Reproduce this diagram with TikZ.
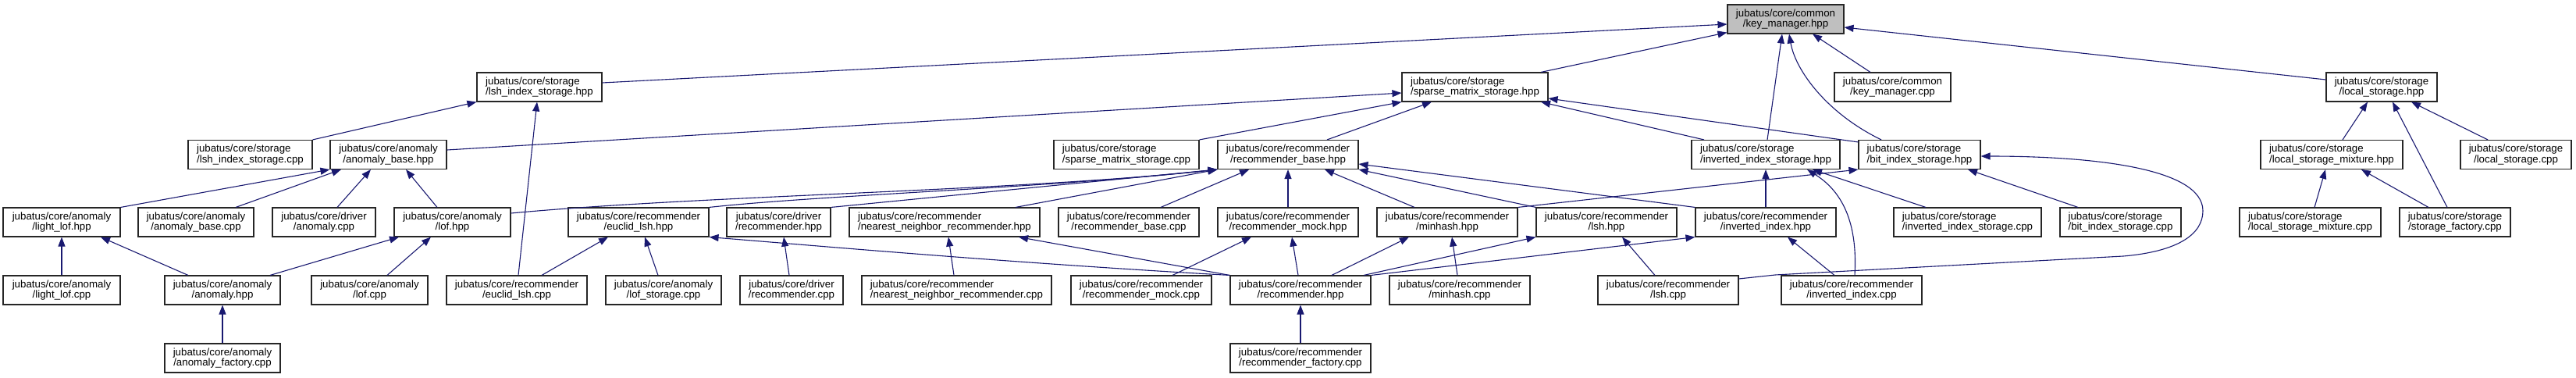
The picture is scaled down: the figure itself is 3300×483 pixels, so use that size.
\documentclass[tikz,border=0pt]{standalone}
\usepackage{fontspec}
\newfontfamily\dxfont{Liberation Sans}
\usetikzlibrary{arrows.meta,calc}
\definecolor{midblue}{RGB}{25,25,112}
\definecolor{rootgray}{RGB}{191,191,191}
\tikzset{
  box/.style={draw=black!85, line width=1.1pt, fill=white, minimum height=37pt, inner sep=0pt,
    font=\dxfont\fontsize{13.3pt}{13.3pt}\selectfont, align=center},
  lbox/.style={box, align=left},
  e/.style={draw=midblue, line width=1.1pt, -{Triangle[length=12pt,width=9pt,fill=midblue]}},
}
\begin{document}
\begin{tikzpicture}[x=1pt,y=-1pt]
\useasboundingbox (0,0) rectangle (3300,483);
% row 0
\node[box, fill=rootgray, minimum width=149pt] (km) at (2287.5,24.5) {jubatus/core/common\\/key\_manager.hpp};
% row 1
\node[lbox, minimum width=160pt] (lshh) at (691,111.5) {jubatus/core/storage\\/lsh\_index\_storage.hpp};
\node[lbox, minimum width=187pt] (smsh) at (1889.5,111.5) {jubatus/core/storage\\/sparse\_matrix\_storage.hpp};
\node[box, minimum width=149pt] (kmc) at (2424.5,111.5) {jubatus/core/common\\/key\_manager.cpp};
\node[box, minimum width=142pt] (lsth) at (3051,111.5) {jubatus/core/storage\\/local\_storage.hpp};
% row 2
\node[lbox, minimum width=159pt] (lshc) at (320.5,198) {jubatus/core/storage\\/lsh\_index\_storage.cpp};
\node[box, minimum width=149pt] (abh) at (497.5,198) {jubatus/core/anomaly\\/anomaly\_base.hpp};
\node[lbox, minimum width=186pt] (smsc) at (1443,198) {jubatus/core/storage\\/sparse\_matrix\_storage.cpp};
\node[box, minimum width=180pt] (rbh) at (1650,198) {jubatus/core/recommender\\/recommender\_base.hpp};
\node[lbox, minimum width=190pt] (iish) at (2262,198) {jubatus/core/storage\\/inverted\_index\_storage.hpp};
\node[lbox, minimum width=156pt] (bish) at (2459,198) {jubatus/core/storage\\/bit\_index\_storage.hpp};
\node[lbox, minimum width=182pt] (lsmh) at (2987,198) {jubatus/core/storage\\/local\_storage\_mixture.hpp};
\node[box, minimum width=142pt] (lstc) at (3223,198) {jubatus/core/storage\\/local\_storage.cpp};
% row 3
\node[box, minimum width=150pt] (llh) at (79,284.5) {jubatus/core/anomaly\\/light\_lof.hpp};
\node[box, minimum width=148pt] (abc) at (251,284.5) {jubatus/core/anomaly\\/anomaly\_base.cpp};
\node[box, minimum width=132pt] (dac) at (415,284.5) {jubatus/core/driver\\/anomaly.cpp};
\node[box, minimum width=149pt] (lofh) at (579.5,284.5) {jubatus/core/anomaly\\/lof.hpp};
\node[box, minimum width=180pt] (elh) at (818,284.5) {jubatus/core/recommender\\/euclid\_lsh.hpp};
\node[box, minimum width=133pt] (drh) at (997.5,284.5) {jubatus/core/driver\\/recommender.hpp};
\node[lbox, minimum width=244pt] (nnrh) at (1210,284.5) {jubatus/core/recommender\\/nearest\_neighbor\_recommender.hpp};
\node[box, minimum width=180pt] (rbc) at (1446,284.5) {jubatus/core/recommender\\/recommender\_base.cpp};
\node[box, minimum width=180pt] (rmh) at (1650,284.5) {jubatus/core/recommender\\/recommender\_mock.hpp};
\node[box, minimum width=180pt] (mhh) at (1854,284.5) {jubatus/core/recommender\\/minhash.hpp};
\node[box, minimum width=180pt] (lshH) at (2058,284.5) {jubatus/core/recommender\\/lsh.hpp};
\node[box, minimum width=180pt] (iih) at (2262,284.5) {jubatus/core/recommender\\/inverted\_index.hpp};
\node[lbox, minimum width=189pt] (iisc) at (2520.5,284.5) {jubatus/core/storage\\/inverted\_index\_storage.cpp};
\node[lbox, minimum width=155pt] (bisc) at (2716.5,284.5) {jubatus/core/storage\\/bit\_index\_storage.cpp};
\node[lbox, minimum width=181pt] (lsmc) at (2959.5,284.5) {jubatus/core/storage\\/local\_storage\_mixture.cpp};
\node[box, minimum width=142pt] (sfc) at (3145,284.5) {jubatus/core/storage\\/storage\_factory.cpp};
% row 4
\node[box, minimum width=150pt] (llc) at (79,371.5) {jubatus/core/anomaly\\/light\_lof.cpp};
\node[box, minimum width=148pt] (ah) at (285,371.5) {jubatus/core/anomaly\\/anomaly.hpp};
\node[box, minimum width=149pt] (lofc) at (473.5,371.5) {jubatus/core/anomaly\\/lof.cpp};
\node[box, minimum width=180pt] (elc) at (662,371.5) {jubatus/core/recommender\\/euclid\_lsh.cpp};
\node[box, minimum width=148pt] (lofsc) at (850,371.5) {jubatus/core/anomaly\\/lof\_storage.cpp};
\node[box, minimum width=132pt] (drc) at (1014,371.5) {jubatus/core/driver\\/recommender.cpp};
\node[lbox, minimum width=243pt] (nnrc) at (1225.5,371.5) {jubatus/core/recommender\\/nearest\_neighbor\_recommender.cpp};
\node[box, minimum width=180pt] (rmc) at (1462,371.5) {jubatus/core/recommender\\/recommender\_mock.cpp};
\node[box, minimum width=180pt] (rh) at (1666,371.5) {jubatus/core/recommender\\/recommender.hpp};
\node[box, minimum width=180pt] (mhc) at (1870,371.5) {jubatus/core/recommender\\/minhash.cpp};
\node[box, minimum width=180pt] (lshC) at (2137,371.5) {jubatus/core/recommender\\/lsh.cpp};
\node[box, minimum width=180pt] (iic) at (2372,371.5) {jubatus/core/recommender\\/inverted\_index.cpp};
% row 5
\node[box, minimum width=148pt] (afc) at (285,458.5) {jubatus/core/anomaly\\/anomaly\_factory.cpp};
\node[box, minimum width=180pt] (rfc) at (1666,458.5) {jubatus/core/recommender\\/recommender\_factory.cpp};

% edges into key_manager.hpp
\draw[e] ([yshift=5.5pt]lshh.east) -- ([yshift=-6.5pt]km.west);
\draw[e] ([xshift=84.5pt]smsh.north) -- ([yshift=2pt]km.south west);
\draw[e] ([xshift=2pt]iish.north) -- ([xshift=-4.5pt]km.south);
\draw[e] ([xshift=-49pt]bish.north) .. controls (2340,145) and (2300,90) .. ([xshift=4.5pt]km.south);
\draw[e] ([xshift=-28.5pt]kmc.north) -- ([xshift=34.5pt]km.south);
\draw[e] ([yshift=9.5pt]lsth.west) -- ([yshift=-10.5pt]km.east);
% lsh_index_storage.hpp
\draw[e] (lshc.north east) -- (lshh.south west);
\draw[e] ([xshift=2pt]elc.north) -- ([xshift=-3pt]lshh.south);
% sparse_matrix_storage.hpp
\draw[e] ([yshift=6pt]abh.east) -- ([yshift=-7.5pt]smsh.west);
\draw[e] (smsc.north east) -- (smsh.south west);
\draw[e] ([xshift=50pt]rbh.north) -- ([xshift=-55.5pt]smsh.south);
\draw[e] ([yshift=-3pt]bish.north west) -- ([yshift=-14.5pt]smsh.east);
\draw[e] ([xshift=-79pt]iish.north) -- ([xshift=84.5pt]smsh.south);
% anomaly_base.hpp
\draw[e] (llh.north east) -- (abh.south west);
\draw[e] ([xshift=51pt]abc.north) -- ([xshift=-60.5pt]abh.south);
\draw[e] ([xshift=17pt]dac.north) -- ([xshift=-22.5pt]abh.south);
\draw[e] ([xshift=-19.5pt]lofh.north) -- ([xshift=22.5pt]abh.south);
% light_lof.hpp
\draw[e] (llc.north) -- (llh.south);
\draw[e] ([xshift=-44pt]ah.north) -- ([xshift=50pt]llh.south);
% lof.hpp
\draw[e] ([xshift=61pt]ah.north) -- ([xshift=-68.5pt]lofh.south);
\draw[e] ([xshift=22.5pt]lofc.north) -- ([xshift=-27.5pt]lofh.south);
% anomaly.hpp
\draw[e] (afc.north) -- (ah.north |- ah.south);
% euclid_lsh.hpp
\draw[e] ([xshift=32pt]elc.north) -- ([xshift=-39pt]elh.south);
\draw[e] ([xshift=-7pt]lofsc.north) -- ([xshift=8pt]elh.south);
\draw[e] (rh.north west) .. controls (1300,337) and (1050,315) .. (elh.south east);
% recommender_base.hpp
\draw[e] ([yshift=11.5pt]lofh.east) .. controls (900,250) and (1300,245) .. (rbh.south west);
\draw[e] (elh.north east) .. controls (1050,250) and (1350,240) .. (rbh.south west);
\draw[e] (drh.north east) -- (rbh.south west);
\draw[e] ([xshift=91pt]nnrh.north) -- (rbh.south west);
\draw[e] ([xshift=41pt]rbc.north) -- ([xshift=-50pt]rbh.south);
\draw[e] (rmh.north) -- (rbh.south);
\draw[e] ([xshift=-42pt]mhh.north) -- ([xshift=47pt]rbh.south);
\draw[e] (lshH.north west) -- (rbh.south east);
\draw[e] (iih.north west) -- ([yshift=-12pt]rbh.east);
% driver/recommender.hpp
\draw[e] ([xshift=-3pt]drc.north) -- ([xshift=6.5pt]drh.south);
% nearest_neighbor_recommender.hpp
\draw[e] ([xshift=-3.5pt]nnrc.north) -- ([xshift=5pt]nnrh.south);
\draw[e] (rh.north west) -- ([xshift=95pt]nnrh.south);
% recommender_mock.hpp
\draw[e] ([xshift=40pt]rmc.north) -- ([xshift=-47pt]rmh.south);
\draw[e] ([xshift=-3pt]rh.north) -- ([xshift=5pt]rmh.south);
% minhash.hpp
\draw[e] ([xshift=40pt]rh.north) -- ([xshift=-49pt]mhh.south);
\draw[e] ([xshift=-3pt]mhc.north) -- ([xshift=6pt]mhh.south);
% lsh.hpp
\draw[e] ([xshift=81pt]rh.north) -- (lshH.south west);
\draw[e] ([xshift=-17pt]lshC.north) -- ([xshift=20pt]lshH.south);
% inverted_index.hpp
\draw[e] (rh.north east) -- (iih.south west);
\draw[e] ([xshift=-22pt]iic.north) -- ([xshift=28pt]iih.south);
% inverted_index_storage.hpp
\draw[e] (iih.north) -- (iish.south);
\draw[e] ([xshift=4pt]iic.north) .. controls (2380,285) and (2360,245) .. ([xshift=53pt]iish.south);
\draw[e] ([xshift=-53.5pt]iisc.north) -- ([xshift=60pt]iish.south);
% bit_index_storage.hpp
\draw[e] (mhh.north east) -- (bish.south west);
\draw[e] ([xshift=-54.5pt]bisc.north) -- ([xshift=62pt]bish.south);
\draw[e] ([yshift=14.5pt]lshC.east) -- (2274,352) -- (2720,328)
  .. controls (2790,322) and (2822,300) .. (2822,270)
  .. controls (2822,215) and (2680,200) .. ([yshift=-2pt]bish.east);
% local_storage.hpp
\draw[e] ([xshift=14pt]lsmh.north) -- ([xshift=-18pt]lsth.south);
\draw[e] ([xshift=-10pt]sfc.north) -- ([xshift=14pt]lsth.south);
\draw[e] ([xshift=-36pt]lstc.north) -- ([xshift=38pt]lsth.south);
% local_storage_mixture.hpp
\draw[e] ([xshift=5.5pt]lsmc.north) -- ([xshift=-8pt]lsmh.south);
\draw[e] ([xshift=-34pt]sfc.north) -- ([xshift=38pt]lsmh.south);
% recommender.hpp
\draw[e] (rfc.north) -- (rh.south);
\end{tikzpicture}
\end{document}
